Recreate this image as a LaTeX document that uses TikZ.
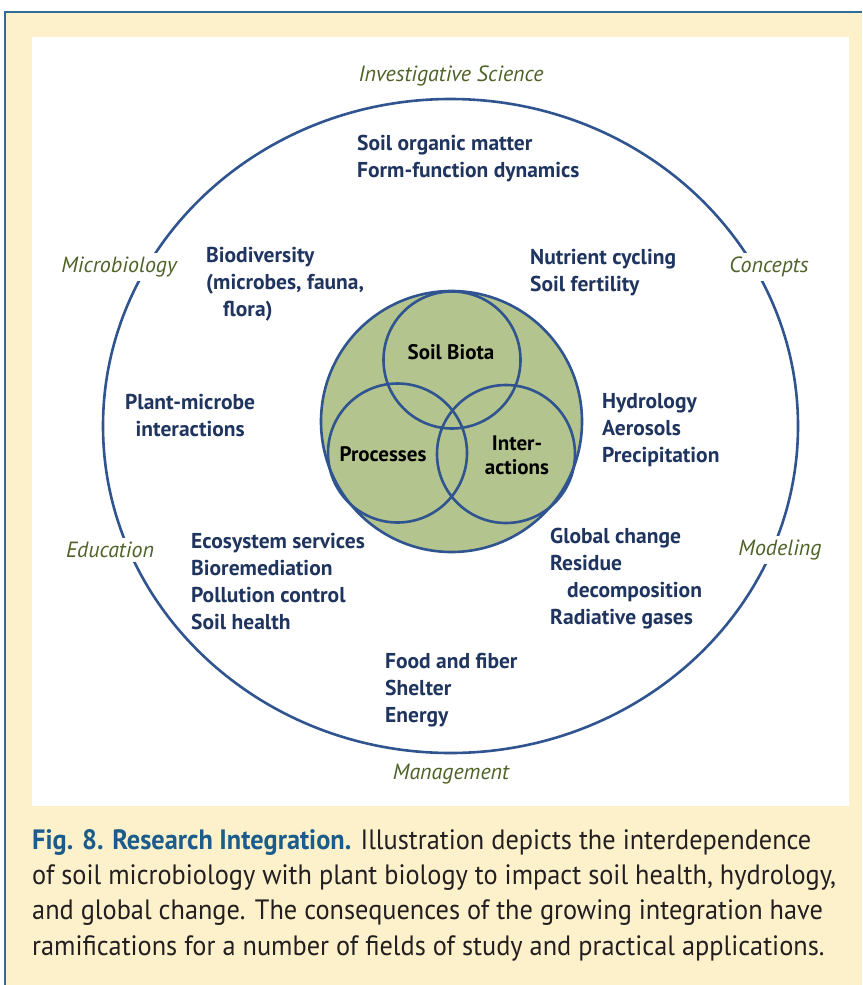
\documentclass[tikz,border=0pt]{standalone}
\usepackage{fontspec}
\setmainfont{PT Sans}
\newfontfamily\capfont[FakeStretch=0.94]{PT Sans}

\definecolor{cream}{RGB}{253,241,204}
\definecolor{framblue}{RGB}{48,108,150}
\definecolor{ringblue}{RGB}{47,84,143}
\definecolor{soilgreen}{RGB}{180,196,142}
\definecolor{listnavy}{RGB}{31,52,94}
\definecolor{fieldgreen}{RGB}{79,98,40}
\definecolor{capblue}{RGB}{27,92,138}
\definecolor{capgrey}{RGB}{35,31,32}

\tikzset{
  ring/.style={draw=ringblue, line width=2.6pt},
  field/.style={fill=white, inner sep=4pt, text=fieldgreen,
    font=\fontsize{22}{27}\selectfont\itshape},
  topic/.style={anchor=west, align=left, text=listnavy, inner sep=0pt,
    font=\fontsize{21.5}{27}\selectfont\bfseries},
  core/.style={align=center, text=black, inner sep=0pt,
    font=\fontsize{21}{24}\selectfont\bfseries}
}

\begin{document}
\begin{tikzpicture}[x=1pt,y=-1pt]
  \useasboundingbox (0,0) rectangle (862,985);
  % frame and panel
  \fill[cream] (5,12) rectangle (862,985);
  \draw[framblue, line width=1.6pt] (5,985) -- (5,12) -- (862,12);
  \fill[white] (32,37) rectangle (849,806);

  % rings
  \draw[ring] (450.5,426) ellipse [x radius=347.5, y radius=327];
  \draw[ring, fill=soilgreen] (451.5,421.5) circle [radius=130.5];
  \begin{scope}[ring]
    \draw (452,360) circle [radius=68.5];
    \draw (397.5,453) circle [radius=69.5];
    \draw (506,454) circle [radius=69];
  \end{scope}

  % core
  \node[core] (biota) at (451,352) {Soil Biota};
  \node[core] (proc) at (383,454) {Processes};
  \node[core] (inter) at (517,455) {Inter-\\actions};

  % fields on the ring
  \node[field] (invsci) at (451,76) {Investigative Science};
  \node[field] (micro) at (119,267) {Microbiology};
  \node[field] (concepts) at (769,267) {Concepts};
  \node[field] (educ) at (110,550) {Education};
  \node[field] (model) at (780,550) {Modeling};
  \node[field] (manage) at (451,774) {Management};

  % topics
  \node[topic] (som) at (357,159) {Soil organic matter\\Form-function dynamics};
  \node[topic] (biodiv) at (206,284) {Biodiversity\\(microbes, fauna,\\\hspace*{17pt}flora)};
  \node[topic] (nutri) at (530,272.5) {Nutrient cycling\\Soil fertility};
  \node[topic, align=center] (plant) at (125,416) {Plant-microbe\\interactions};
  \node[topic] (hydro) at (602,430) {Hydrology\\Aerosols\\Precipitation};
  \node[topic] (ecosys) at (191,581) {Ecosystem services\\Bioremediation\\Pollution control\\Soil health};
  \node[topic] (glob) at (550,579) {Global change\\Residue\\\hspace*{17pt}decomposition\\Radiative gases};
  \node[topic] (food) at (385,690) {Food and fiber\\Shelter\\Energy};

  % caption
  \node[anchor=north west, align=left, inner sep=0pt, text=capgrey,
    font=\fontsize{28}{35.3}\capfont] (caption) at (32,829)
    {{\color{capblue}\bfseries Fig. 8. Research Integration.} Illustration depicts the interdependence\\
     of soil microbiology with plant biology to impact soil health, hydrology,\\
     and global change. The consequences of the growing integration have\\
     ramifications for a number of fields of study and practical applications.};
\end{tikzpicture}
\end{document}
